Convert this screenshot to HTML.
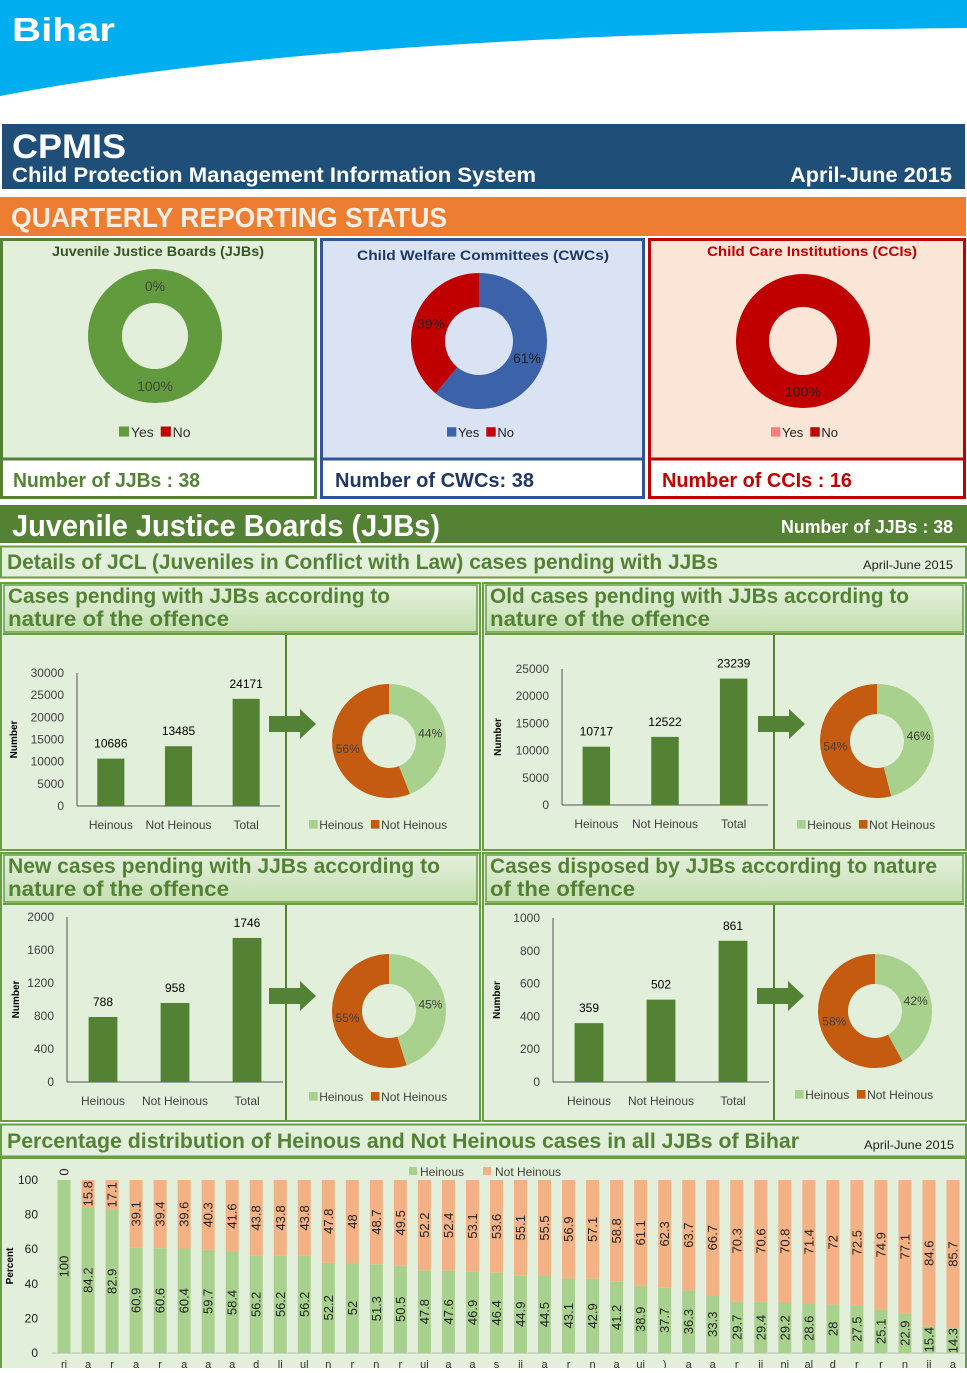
<!DOCTYPE html>
<html><head><meta charset="utf-8">
<style>
html,body{margin:0;padding:0;background:#fff;}
body{width:967px;height:1368px;overflow:hidden;font-family:"Liberation Sans",sans-serif;}
svg text{font-family:"Liberation Sans",sans-serif;}
</style></head>
<body>
<svg id="page" width="967" height="1368" viewBox="0 0 967 1368" xmlns="http://www.w3.org/2000/svg">
<defs>
<linearGradient id="hdrG" x1="0" y1="0" x2="0" y2="1"><stop offset="0" stop-color="#e4f0dc"/><stop offset="1" stop-color="#c4dfb0"/></linearGradient>
</defs>
<path d="M0 0 H967 V28 Q320 34 0 96 Z" fill="#00aeef"/>
<text x="12" y="41" font-size="33" font-weight="bold" fill="#fff" textLength="103" lengthAdjust="spacingAndGlyphs">Bihar</text>
<rect x="2" y="124" width="963" height="65" fill="#1f4e79"/>
<text x="12" y="158" font-size="34" font-weight="bold" fill="#fff" textLength="114" lengthAdjust="spacingAndGlyphs">CPMIS</text>
<text x="12" y="182" font-size="21" font-weight="bold" fill="#fff" textLength="524" lengthAdjust="spacingAndGlyphs">Child Protection Management Information System</text>
<text x="952" y="182" font-size="21" font-weight="bold" fill="#fff" text-anchor="end" textLength="162" lengthAdjust="spacingAndGlyphs">April-June 2015</text>
<rect x="0" y="197" width="966" height="39" fill="#ed7d31"/>
<text x="11" y="227" font-size="28" font-weight="bold" fill="#fdeee4" textLength="436" lengthAdjust="spacingAndGlyphs">QUARTERLY REPORTING STATUS</text>

<rect x="1.5" y="239.5" width="314" height="258" fill="#e2efda" stroke="#548235" stroke-width="3"/>
<rect x="1.5" y="459" width="314" height="38.5" fill="#fff" stroke="#548235" stroke-width="3"/>
<text x="158" y="256" font-size="14" font-weight="bold" fill="#375623" text-anchor="middle" textLength="212" lengthAdjust="spacingAndGlyphs">Juvenile Justice Boards (JJBs)</text>
<text x="13" y="487" font-size="20" font-weight="bold" fill="#548235" textLength="187" lengthAdjust="spacingAndGlyphs">Number of JJBs : 38</text>

<rect x="321.5" y="239.5" width="322" height="258" fill="#dae3f3" stroke="#2f5597" stroke-width="3"/>
<rect x="321.5" y="459" width="322" height="38.5" fill="#fff" stroke="#2f5597" stroke-width="3"/>
<text x="483" y="260" font-size="14" font-weight="bold" fill="#1f3864" text-anchor="middle" textLength="252" lengthAdjust="spacingAndGlyphs">Child Welfare Committees (CWCs)</text>
<text x="335" y="487" font-size="20" font-weight="bold" fill="#1f3864" textLength="199" lengthAdjust="spacingAndGlyphs">Number of CWCs: 38</text>

<rect x="649.5" y="239.5" width="315" height="258" fill="#fbe5d6" stroke="#c00000" stroke-width="3"/>
<rect x="649.5" y="459" width="315" height="38.5" fill="#fff" stroke="#c00000" stroke-width="3"/>
<text x="812" y="256" font-size="14" font-weight="bold" fill="#c00000" text-anchor="middle" textLength="210" lengthAdjust="spacingAndGlyphs">Child Care Institutions (CCIs)</text>
<text x="662" y="487" font-size="20" font-weight="bold" fill="#c00000" textLength="190" lengthAdjust="spacingAndGlyphs">Number of CCIs : 16</text>

<rect x="0" y="505" width="967" height="38" fill="#548235"/>
<text x="12" y="536" font-size="31" font-weight="bold" fill="#fff" textLength="428" lengthAdjust="spacingAndGlyphs">Juvenile Justice Boards (JJBs)</text>
<text x="953" y="533" font-size="18" font-weight="bold" fill="#fff" text-anchor="end" textLength="172" lengthAdjust="spacingAndGlyphs">Number of JJBs : 38</text>
<rect x="1" y="546.5" width="965" height="31" fill="#e2efda" stroke="#6a9e44" stroke-width="2"/>
<text x="7" y="569" font-size="21" font-weight="bold" fill="#548235" textLength="711" lengthAdjust="spacingAndGlyphs">Details of JCL (Juveniles in Conflict with Law) cases pending with JJBs</text>
<text x="953" y="569" font-size="12" fill="#222" text-anchor="end" textLength="90" lengthAdjust="spacingAndGlyphs">April-June 2015</text>

<g id="panels"></g>

<rect x="1" y="1124.5" width="965" height="32" fill="#e2efda" stroke="#6a9e44" stroke-width="2"/>
<text x="7" y="1148" font-size="21" font-weight="bold" fill="#548235" textLength="792" lengthAdjust="spacingAndGlyphs">Percentage distribution of Heinous and Not Heinous cases in all JJBs of Bihar</text>
<text x="954" y="1149" font-size="12" fill="#222" text-anchor="end" textLength="90" lengthAdjust="spacingAndGlyphs">April-June 2015</text>
<rect x="1" y="1158" width="965" height="212" fill="#e2efda" stroke="#6a9e44" stroke-width="2"/>
<g id="stack"></g>
<g id="donuts"></g>
</svg>

<script>
// ---------- data ----------
const barCats = ["Heinous","Not Heinous","Total"];
const pendingVals = [10686,13485,24171];
const oldVals = [10717,12522,23239];
const newVals = [788,958,1746];
const disposedVals = [359,502,861];
const pendingTicks = [0,5000,10000,15000,20000,25000,30000];
const oldTicks = [0,5000,10000,15000,20000,25000];
const newTicks = [0,400,800,1200,1600,2000];
const disposedTicks = [0,200,400,600,800,1000];
const pendingPct = [44,56];
const oldPct = [46,54];
const newPct = [45,55];
const disposedPct = [42,58];
const jjbStatus = [100,0];
const cwcStatus = [61,39];
const cciStatus = [0,100];

const stackHeinous = [100,84.2,82.9,60.9,60.6,60.4,59.7,58.4,56.2,56.2,56.2,52.2,52,51.3,50.5,47.8,47.6,46.9,46.4,44.9,44.5,43.1,42.9,41.2,38.9,37.7,36.3,33.3,29.7,29.4,29.2,28.6,28,27.5,25.1,22.9,15.4,14.3];
const stackNotHeinous = [0,15.8,17.1,39.1,39.4,39.6,40.3,41.6,43.8,43.8,43.8,47.8,48,48.7,49.5,52.2,52.4,53.1,53.6,55.1,55.5,56.9,57.1,58.8,61.1,62.3,63.7,66.7,70.3,70.6,70.8,71.4,72,72.5,74.9,77.1,84.6,85.7];
const stackCats = ["ri","a","r","a","r","a","a","a","d","li","ul","n","r","n","r","uj","a","a","s","ii","a","r","n","a","uj",")","a","a","r","ii","ni","al","d","r","r","n","ii","a"];
const stackTicks = [0,20,40,60,80,100];

const NS = "http://www.w3.org/2000/svg";
function mk(tag, attrs, parent, txt){
  const e = document.createElementNS(NS, tag);
  for (const k in attrs) e.setAttribute(k, attrs[k]);
  if (txt !== undefined) e.textContent = txt;
  parent.appendChild(e);
  return e;
}
const panels = document.getElementById('panels');
const donutsG = document.getElementById('donuts');

function arcPath(cx,cy,r,ri,a0,a1){
  if (a1-a0 >= 359.999) a1 = a0+359.99;
  const rad = a => (a-90)*Math.PI/180;
  const p = (rr,a)=>[cx+rr*Math.cos(rad(a)), cy+rr*Math.sin(rad(a))];
  const large = (a1-a0)>180?1:0;
  const [x0,y0]=p(r,a0),[x1,y1]=p(r,a1),[x2,y2]=p(ri,a1),[x3,y3]=p(ri,a0);
  return `M${x0} ${y0} A${r} ${r} 0 ${large} 1 ${x1} ${y1} L${x2} ${y2} A${ri} ${ri} 0 ${large} 0 ${x3} ${y3} Z`;
}
function donut(name, vals, colors, cx, cy, r, ri, fs, labelColor){
  const g = mk('g',{},donutsG);
  
  
  const tot = vals.reduce((a,b)=>a+b,0);
  let a = 0;
  vals.forEach((v,i)=>{
    const span = v/tot*360;
    if (span > 0){
      const s = mk('path',{d:arcPath(cx,cy,r,ri,a,a+span),fill:colors[i]},g);
      
      
    }
    const mid = (a+span/2-90)*Math.PI/180, rm=(r+ri)/2;
    const t = mk('text',{x:cx+rm*Math.cos(mid),y:cy+rm*Math.sin(mid)+fs*0.35,'font-size':fs,'text-anchor':'middle',fill:labelColor},g, Math.round(v/tot*100)+'%');
    
    
    a += span;
  });
}
function legend(items, x, y, fs, textColor){
  let cx = x;
  items.forEach(it=>{
    const sw = mk('rect',{x:cx,y:y-fs*0.75,width:fs*0.72,height:fs*0.72,fill:it[1]},donutsG);
    
    
    const t = mk('text',{x:cx+fs*0.85,y:y,'font-size':fs,fill:textColor},donutsG,it[0]);
    
    
    cx += fs*0.85 + it[0].length*fs*0.52 + 8;
  });
}

donut('jjb-status-donut', jjbStatus, ['#629b3d','#c00000'], 155, 336, 67, 33, 14, '#444');
legend([['Yes','#629b3d'],['No','#c00000']], 119, 437, 14, '#333');
donut('cwc-status-donut', cwcStatus, ['#3c62aa','#c00000'], 479, 341, 68, 34, 14, '#222');
legend([['Yes','#3c62aa'],['No','#c00000']], 447, 437, 13, '#222');
donut('cci-status-donut', cciStatus, ['#ff7c80','#c00000'], 803, 341, 67, 34, 14, '#222');
legend([['Yes','#ff7c80'],['No','#c00000']], 771, 437, 13, '#222');

function panel(name, x, y, w, h, title1, len1, title2, len2, split){
  const g = mk('g',{},panels);
  
  
  mk('rect',{x:x+1,y:y+1,width:w-2,height:h-2,fill:'#e2efda',stroke:'#6a9e44','stroke-width':2},g);
  mk('rect',{x:x+4,y:y+3,width:w-8,height:47,fill:'url(#hdrG)',stroke:'#6a9e44','stroke-width':1.5},g);
  const t1 = mk('text',{x:x+8,y:y+21,'font-size':21,'font-weight':'bold',fill:'#548235',textLength:len1,lengthAdjust:'spacingAndGlyphs'},g,title1);
  
  
  mk('text',{x:x+8,y:y+44,'font-size':21,'font-weight':'bold',fill:'#548235',textLength:len2,lengthAdjust:'spacingAndGlyphs'},g,title2);
  mk('line',{x1:x+3,y1:y+52,x2:x+w-3,y2:y+52,stroke:'#6a9e44','stroke-width':2},g);
  mk('line',{x1:split,y1:y+53,x2:split,y2:y+h-2,stroke:'#548235','stroke-width':2},g);
}
panel('pending-panel',0,582,481,269,'Cases pending with JJBs according to',382,'nature of the offence',221,286);
panel('old-pending-panel',482,582,485,269,'Old cases pending with JJBs according to',419,'nature of the offence',220,774);
panel('new-pending-panel',0,852,481,270,'New cases pending with JJBs according to',432,'nature of the offence',221,286);
panel('disposed-panel',482,852,485,270,'Cases disposed by JJBs  according to nature',447,'of the offence',145,774);

function barChart(name, vals, ticks, x0, x1, yTop, yBot, catY, titleX){
  const g = mk('g',{},panels);
  
  
  const max = ticks[ticks.length-1];
  const ys = v => yBot - v/max*(yBot-yTop);
  const band = (x1-x0)/vals.length;
  const xs = i => x0 + band*(i+0.5);
  ticks.forEach(t=>{
    const tl = mk('text',{x:x0-13,y:ys(t)+4,'font-size':12,'text-anchor':'end',fill:'#404040'},g,t);
    
    
  });
  mk('line',{x1:x0,y1:yTop,x2:x0,y2:yBot,stroke:'#555','stroke-width':1},g);
  mk('line',{x1:x0,y1:yBot,x2:x1,y2:yBot,stroke:'#555','stroke-width':1},g);
  const yt = mk('text',{transform:`translate(${titleX},${(yTop+yBot)/2}) rotate(-90)`,'font-size':10,'font-weight':'bold','text-anchor':'middle',fill:'#000'},g,'Number');
  
  
  const bw = band*0.4;
  vals.forEach((v,i)=>{
    const b = mk('rect',{x:xs(i)-bw/2,y:ys(v),width:bw,height:yBot-ys(v),fill:'#548235'},g);
    
    
    const vl = mk('text',{x:xs(i),y:ys(v)-11,'font-size':12,'text-anchor':'middle',fill:'#000'},g,v);
    
    
    const cl = mk('text',{x:xs(i),y:catY,'font-size':12,'text-anchor':'middle',fill:'#404040'},g,barCats[i]);
    
    
  });
}
barChart('pending-bar-chart', pendingVals, pendingTicks, 77, 280, 673, 806, 829, 17);
barChart('old-bar-chart', oldVals, oldTicks, 562, 768, 669, 805, 828, 501);
barChart('new-bar-chart', newVals, newTicks, 67, 283, 917, 1082, 1105, 19);
barChart('disposed-bar-chart', disposedVals, disposedTicks, 553, 769, 918, 1082, 1105, 500);

function arrow(name,x,y){
  const p = mk('path',{d:`M${x} ${y-8} H${x+31} V${y-15} L${x+47} ${y} L${x+31} ${y+15} V${y+8} H${x} Z`,fill:'#548235'},panels);
  
  
}
arrow('pending-arrow',269,724); arrow('old-arrow',758,724); arrow('new-arrow',269,996); arrow('disposed-arrow',757,996);

const hc=['#a9d18e','#c55a11'];
donut('pending-donut', pendingPct, hc, 389, 741, 57, 27, 12, '#404040');
legend([['Heinous',hc[0]],['Not Heinous',hc[1]]], 309, 829, 12, '#404040');
donut('old-donut', oldPct, hc, 877, 741, 57, 27, 12, '#404040');
legend([['Heinous',hc[0]],['Not Heinous',hc[1]]], 797, 829, 12, '#404040');
donut('new-donut', newPct, hc, 389, 1011, 57, 27, 12, '#404040');
legend([['Heinous',hc[0]],['Not Heinous',hc[1]]], 309, 1101, 12, '#404040');
donut('disposed-donut', disposedPct, hc, 875, 1011, 57, 27, 12, '#404040');
legend([['Heinous',hc[0]],['Not Heinous',hc[1]]], 795, 1099, 12, '#404040');

(function(){
  const g = document.getElementById('stack');
  
  
  const x0=52, x1=965, yTop=1180, yBot=1353;
  const ys = v => yBot - v/100*(yBot-yTop);
  const band = (x1-x0)/stackHeinous.length;
  const xs = i => x0 + band*(i+0.5);
  const bw = 13;
  stackTicks.forEach(t=>{
    const tl = mk('text',{x:38,y:ys(t)+4,'font-size':12,'text-anchor':'end',fill:'#222'},g,t);
    
    
  });
  const yt = mk('text',{transform:`translate(13,1266) rotate(-90)`,'font-size':10,'font-weight':'bold','text-anchor':'middle',fill:'#000'},g,'Percent');
  
  
  mk('line',{x1:x0,y1:yBot,x2:x1,y2:yBot,stroke:'#bbb','stroke-width':1},g);
  stackHeinous.forEach((h,i)=>{
    const n = stackNotHeinous[i];
    const bh = mk('rect',{x:xs(i)-bw/2,y:ys(h),width:bw,height:yBot-ys(h),fill:'#a9d18e'},g);
    
    
    const bn = mk('rect',{x:xs(i)-bw/2,y:ys(h+n),width:bw,height:ys(h)-ys(h+n),fill:'#f4b183'},g);
    
    
    const cyh = (ys(h)+yBot)/2;
    const lh = mk('text',{transform:`translate(${xs(i)+4.5},${cyh}) rotate(-90)`,'font-size':13,'text-anchor':'middle',fill:'#222'},g,h);
    
    
    const cyn = n>0 ? (ys(h+n)+ys(h))/2 : ys(h)-8;
    const ln = mk('text',{transform:`translate(${xs(i)+4.5},${cyn}) rotate(-90)`,'font-size':13,'text-anchor':'middle',fill:'#222'},g,n);
    
    
    const cl = mk('text',{x:xs(i),y:1368,'font-size':11,'text-anchor':'middle',fill:'#333'},g,stackCats[i]);
    
    
  });
  const l1 = mk('rect',{x:409,y:1167,width:8,height:8,fill:'#a9d18e'},g);
  
  
  const t1 = mk('text',{x:420,y:1176,'font-size':12,fill:'#404040'},g,'Heinous');
  
  
  const l2 = mk('rect',{x:483,y:1167,width:8,height:8,fill:'#f4b183'},g);
  
  
  const t2 = mk('text',{x:495,y:1176,'font-size':12,fill:'#404040'},g,'Not Heinous');
  
  
})();
</script>
</body></html>
